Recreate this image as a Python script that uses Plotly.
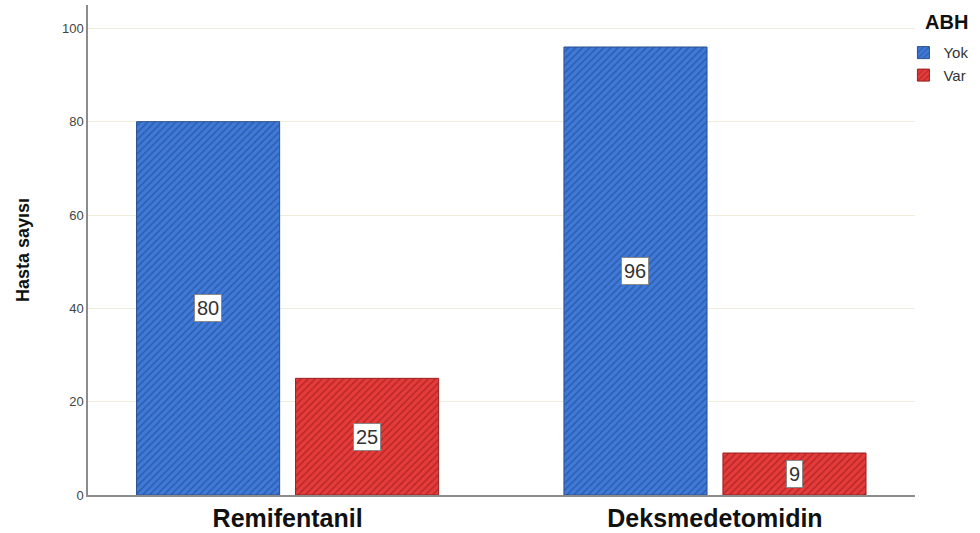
import plotly.graph_objects as go

categories = ["Remifentanil", "Deksmedetomidin"]
series_names = ["Yok", "Var"]
yok_values = [80, 96]
var_values = [25, 9]
y_ticks = [0, 20, 40, 60, 80, 100]
legend_title = "ABH"

colors = {"Yok": ("#3f7ad8", "#1b3f82", "#2b4f8f"), "Var": ("#e53b3b", "#8a1616", "#9a2020")}

fig = go.Figure()
for name, vals in zip(series_names, [yok_values, var_values]):
    fill, pat, line = colors[name]
    fig.add_trace(go.Bar(
        x=categories, y=vals, name=name,
        marker=dict(color=fill, line=dict(color=line, width=1),
                    pattern=dict(shape="/", fgcolor=pat, bgcolor=fill, size=5, solidity=0.3)),
    ))

bargap = 0.256
bargroupgap = 0.1
slot = (1 - bargap) / 2
for i, (name, vals) in enumerate(zip(series_names, [yok_values, var_values])):
    off = (i - 0.5) * slot
    for j, (c, v) in enumerate(zip(categories, vals)):
        fig.add_annotation(
            x=j + off, y=v / 2, xref="x", yref="y", text=str(v), showarrow=False,
            font=dict(family="Liberation Sans, Arial", size=20, color="#333333"),
            bgcolor="white", bordercolor="#8a8a8a", borderwidth=1, borderpad=2,
        )

fig.add_annotation(
    x=1.01, y=0.965, xref="paper", yref="paper", xanchor="left", yanchor="middle",
    text=f"<b>{legend_title}</b>", showarrow=False,
    font=dict(family="Liberation Sans, Arial", size=20, color="#111"),
)

fig.update_layout(
    width=980, height=533,
    margin=dict(l=88, r=65, t=5, b=38, autoexpand=False),
    plot_bgcolor="white", paper_bgcolor="white",
    barmode="group", bargap=bargap, bargroupgap=bargroupgap,
    font=dict(family="Liberation Sans, Arial", color="#222"),
    legend=dict(
        x=0.986, y=0.936, xanchor="left", yanchor="top",
        font=dict(size=15, color="#333"), itemwidth=30, tracegroupgap=0,
        bgcolor="rgba(0,0,0,0)",
    ),
    xaxis=dict(
        tickmode="array", tickvals=[0, 1], ticktext=[f"<b>{c}</b>" for c in categories],
        range=[-0.467, 1.468], showline=True, linecolor="#8c8c8c", linewidth=1.5,
        ticks="", tickfont=dict(size=25, color="#111"), showgrid=False,
    ),
    yaxis=dict(
        range=[0, 105], tickvals=y_ticks, showline=True, linecolor="#8c8c8c", linewidth=1.5,
        gridcolor="#f0ecdc", gridwidth=1, zeroline=False, ticks="",
        tickfont=dict(size=13, color="#444"),
        title=dict(text="<b>Hasta sayısı</b>", font=dict(size=18, color="#111"), standoff=28),
    ),
)

fig.write_html("out.html")
